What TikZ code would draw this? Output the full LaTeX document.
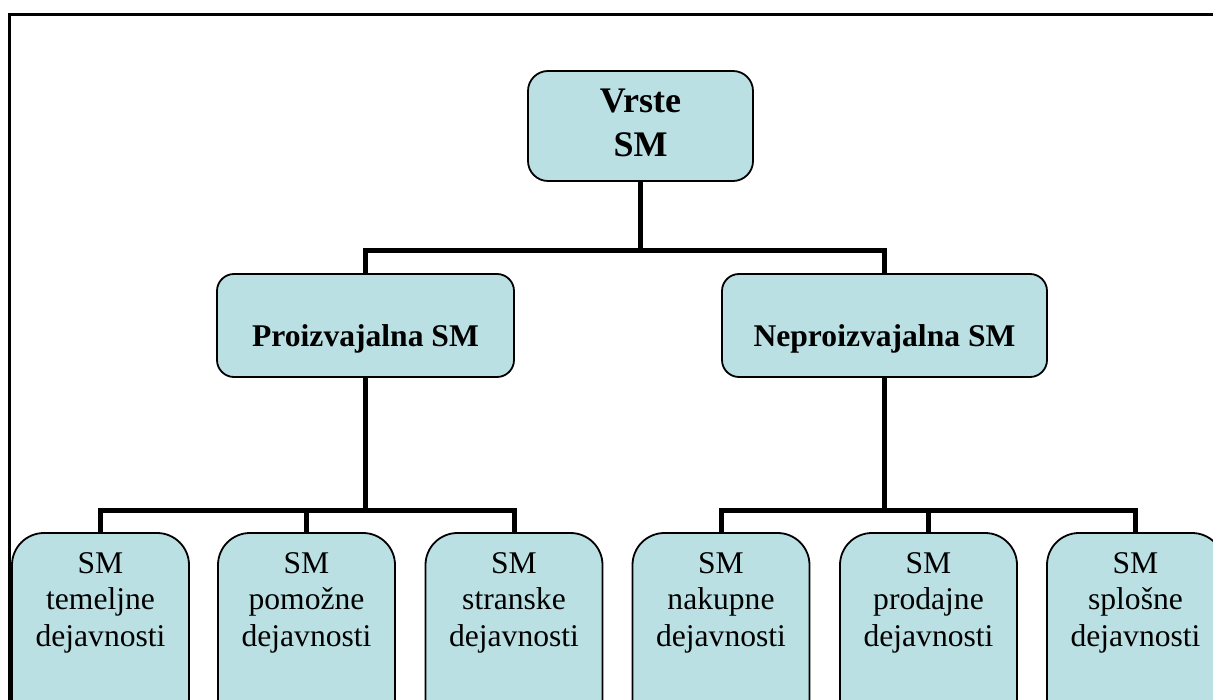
\documentclass[tikz,border=0pt]{standalone}
\usepackage{fontspec}
\setmainfont{Liberation Serif}
\definecolor{boxfill}{RGB}{187,224,227}
\newcommand\toptext[1]{\parbox[c][110pt][t]{225pt}{\centering\fontsize{36}{44}\selectfont\bfseries\rule{0pt}{42pt}#1}}
\newcommand\midtext[2]{\parbox[c][103pt][t]{#1}{\centering\fontsize{31.6}{36.5}\selectfont\bfseries\rule{0pt}{73pt}#2}}
\newcommand\bottext[1]{\parbox[c][210pt][t]{177pt}{\centering\fontsize{31.6}{36.5}\selectfont\rule{0pt}{40pt}#1}}
\tikzset{
  conn/.style={line width=5pt, line join=miter, draw=black},
  basebox/.style={draw=black, line width=1.8pt, fill=boxfill, inner sep=0pt, outer sep=0pt, anchor=north west},
  topbox/.style={basebox, rounded corners=20pt},
  midbox/.style={basebox, rounded corners=17pt},
  botbox/.style={basebox, rounded corners=32pt},
}
\begin{document}
\begin{tikzpicture}[x=1pt,y=-1pt]
\useasboundingbox (0,0) rectangle (1213,700);
\clip (0,0) rectangle (1213,700);
\fill[white] (0,0) rectangle (1213,700);
\draw[line width=3pt] (9.5,14.5) rectangle (1260,760);

\node[topbox] (vrste) at (528,71) {\toptext{Vrste\\SM}};
\node[midbox] (proiz) at (217,274) {\midtext{297pt}{Proizvajalna SM}};
\node[midbox] (neproiz) at (722,274) {\midtext{325pt}{Neproizvajalna SM}};

\node[botbox] (b1) at (12,533) {\bottext{SM\\temeljne\\dejavnosti}};
\node[botbox] (b2) at (218,533) {\bottext{SM\\pomožne\\dejavnosti}};
\node[botbox] (b3) at (425.5,533) {\bottext{SM\\stranske\\dejavnosti}};
\node[botbox] (b4) at (632.5,533) {\bottext{SM\\nakupne\\dejavnosti}};
\node[botbox] (b5) at (840,533) {\bottext{SM\\prodajne\\dejavnosti}};
\node[botbox] (b6) at (1047,533) {\bottext{SM\\splošne\\dejavnosti}};

\coordinate (j0) at (640.5,251);
\coordinate (j1) at (365.5,510);
\coordinate (j2) at (884.5,510);

\draw[conn] (vrste.south) -- (j0);
\draw[conn] (proiz.north) |- (j0) -| (neproiz.north);

\draw[conn] (proiz.south) -- (j1);
\draw[conn] (b1.north) |- (j1) -| (b3.north);
\draw[conn] (b2.north) -- (b2.north |- j1);

\draw[conn] (neproiz.south) -- (j2);
\draw[conn] (b4.north) |- (j2) -| (b6.north);
\draw[conn] (b5.north) -- (b5.north |- j2);
\end{tikzpicture}
\end{document}
